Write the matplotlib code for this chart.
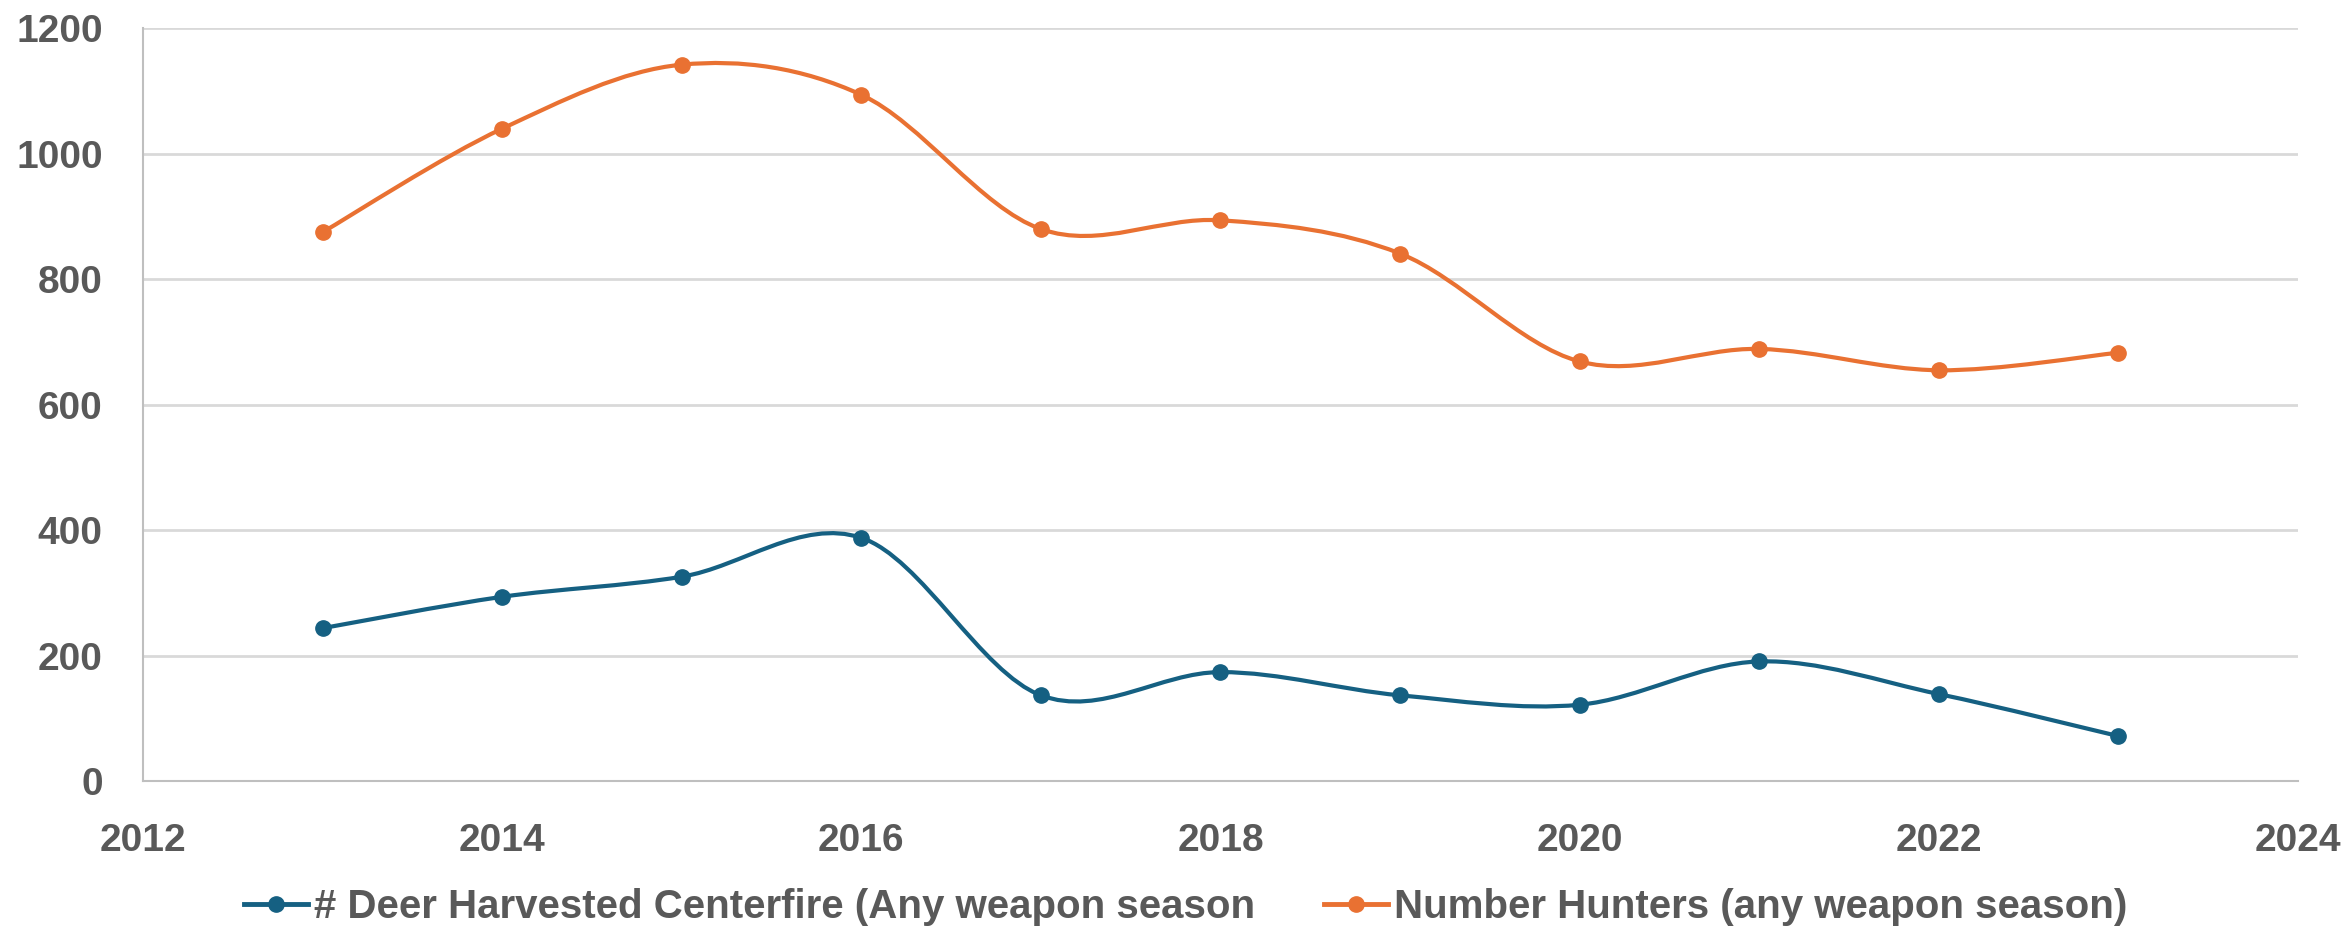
import numpy as np
import matplotlib
matplotlib.use("Agg")
import matplotlib.pyplot as plt
from matplotlib.path import Path
from matplotlib.patches import PathPatch
from matplotlib.lines import Line2D

# data
years = [2013, 2014, 2015, 2016, 2017, 2018, 2019, 2020, 2021, 2022, 2023]
deer_harvested = [244, 294, 326, 388, 137, 174, 137, 122, 191, 139, 72]
hunters = [875, 1040, 1142, 1094, 880, 894, 841, 669, 689, 655, 683]

label_deer = "# Deer Harvested Centerfire (Any weapon season"
label_hunters = "Number Hunters (any weapon season)"

blue = "#156082"
orange = "#E97132"
text_col = "#595959"

plt.rcParams["font.family"] = ["Liberation Sans", "DejaVu Sans"]
plt.rcParams["font.weight"] = "bold"


def smooth_path(x, y):
    # Catmull-Rom style bezier, like the office "smoothed line"
    x = np.asarray(x, float)
    y = np.asarray(y, float)
    pts = np.column_stack([x, y])
    verts = [pts[0]]
    codes = [Path.MOVETO]
    n = len(pts)
    for i in range(n - 1):
        p0 = pts[i - 1] if i > 0 else pts[i]
        p1 = pts[i]
        p2 = pts[i + 1]
        p3 = pts[i + 2] if i + 2 < n else pts[i + 1]
        c1 = p1 + (p2 - p0) / 6.0
        c2 = p2 - (p3 - p1) / 6.0
        verts += [c1, c2, p2]
        codes += [Path.CURVE4] * 3
    return Path(verts, codes)


fig = plt.figure(figsize=(23.48, 9.33), dpi=100)
ax = fig.add_axes([0.0609, 0.1626, 0.9178, 0.8071])

for ys, col in [(deer_harvested, blue), (hunters, orange)]:
    ax.add_patch(PathPatch(smooth_path(years, ys), facecolor="none",
                           edgecolor=col, lw=3, zorder=3))
    ax.plot(years, ys, linestyle="none", marker="o", ms=11, color=col, zorder=4)

ax.set_xlim(2012, 2024)
ax.set_ylim(0, 1200)
ax.set_xticks(range(2012, 2025, 2))
ax.set_yticks(range(0, 1201, 200))
ax.grid(axis="y", color="#d9d9d9", lw=2, zorder=0)
ax.set_axisbelow(True)

for s in ["top", "right"]:
    ax.spines[s].set_visible(False)
for s in ["left", "bottom"]:
    ax.spines[s].set_color("#bfbfbf")
    ax.spines[s].set_linewidth(1.5)

ax.tick_params(length=0, labelsize=28, labelcolor=text_col)
ax.tick_params(axis="y", pad=29)
ax.tick_params(axis="x", pad=30)
for lab in ax.get_xticklabels() + ax.get_yticklabels():
    lab.set_fontweight("bold")

handles = [
    Line2D([], [], color=blue, lw=3.5, marker="o", ms=11),
    Line2D([], [], color=orange, lw=3.5, marker="o", ms=11),
]
leg = fig.legend(handles, [label_deer, label_hunters], loc="center",
                 bbox_to_anchor=(0.505, 0.028), ncol=2, frameon=False,
                 handlelength=1.6, handletextpad=0.15,
                 columnspacing=1.7, labelcolor=text_col,
                 prop={"weight": "bold", "size": 29})

fig.savefig("out.png", dpi=100)
